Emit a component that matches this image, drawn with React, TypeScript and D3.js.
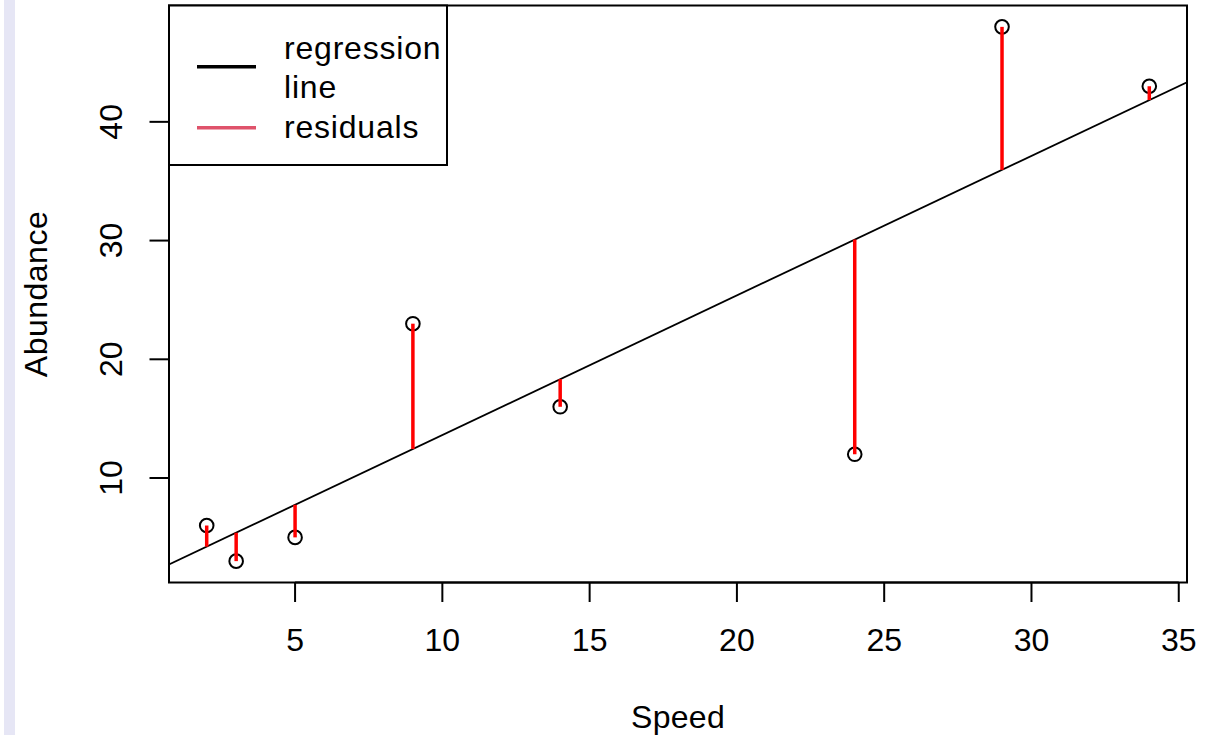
import React from "react";
import * as d3 from "d3";

const speed = [2, 3, 5, 9, 14, 24, 29, 34];
const abundance = [6, 3, 5, 23, 16, 12, 48, 43];
const xTicks = [5, 10, 15, 20, 25, 30, 35];
const yTicks = [10, 20, 30, 40];
const legendLabels = ["regression\nline", "residuals"];

const W = 1225;
const H = 735;
const L = 169, R = 1187, T = 5.5, B = 582.5;
const FONT = "'Liberation Sans', Arial, Helvetica, sans-serif";
const FS = 32;

export default function App() {
  const xExt = d3.extent(speed) as [number, number];
  const yExt = d3.extent(abundance) as [number, number];
  const xPad = (xExt[1] - xExt[0]) * 0.04;
  const yPad = (yExt[1] - yExt[0]) * 0.04;
  const x = d3.scaleLinear().domain([xExt[0] - xPad, xExt[1] + xPad]).range([L, R]);
  const y = d3.scaleLinear().domain([yExt[0] - yPad, yExt[1] + yPad]).range([B, T]);

  const mx = d3.mean(speed)!;
  const my = d3.mean(abundance)!;
  const sxy = d3.sum(speed, (v, i) => (v - mx) * (abundance[i] - my));
  const sxx = d3.sum(speed, (v) => (v - mx) * (v - mx));
  const slope = sxy / sxx;
  const intercept = my - slope * mx;
  const fit = (v: number) => intercept + slope * v;
  const [dx0, dx1] = x.domain();
  const regLine = d3.line<number>().x((v) => x(v)).y((v) => y(fit(v)))([dx0, dx1])!;

  return (
    <svg width={W} height={H} style={{ position: "absolute", left: 0, top: 0, background: "#fff" }} fontFamily={FONT}>
      <rect x={4} y={0} width={11} height={H} fill="#e6e6f5" />
      <defs>
        <clipPath id="plotclip">
          <rect x={L} y={T} width={R - L} height={B - T} />
        </clipPath>
      </defs>
      {/* regression line */}
      <path d={regLine} stroke="#000" strokeWidth={1.8} fill="none" clipPath="url(#plotclip)" />
      {/* points */}
      {speed.map((v, i) => (
        <circle key={"c" + i} cx={x(v)} cy={y(abundance[i])} r={6.8} fill="none" stroke="#000" strokeWidth={2} />
      ))}
      {/* residuals */}
      {speed.map((v, i) => (
        <line key={"r" + i} x1={x(v)} x2={x(v)} y1={y(abundance[i])} y2={y(fit(v))} stroke="#ff0000" strokeWidth={3.5} />
      ))}
      {/* box */}
      <rect x={L} y={T} width={R - L} height={B - T} fill="none" stroke="#000" strokeWidth={2} />
      {/* x axis */}
      <line x1={x(xTicks[0])} x2={x(xTicks[xTicks.length - 1])} y1={B} y2={B} stroke="#000" strokeWidth={2} />
      {xTicks.map((t) => (
        <g key={"xt" + t}>
          <line x1={x(t)} x2={x(t)} y1={B} y2={B + 19.5} stroke="#000" strokeWidth={2} />
          <text x={x(t)} y={651} textAnchor="middle" fontSize={FS} fill="#000">{t}</text>
        </g>
      ))}
      {/* y axis */}
      {yTicks.map((t) => (
        <g key={"yt" + t}>
          <line x1={L - 19.5} x2={L} y1={y(t)} y2={y(t)} stroke="#000" strokeWidth={2} />
          <text transform={`translate(122,${y(t)}) rotate(-90)`} textAnchor="middle" fontSize={FS} fill="#000">{t}</text>
        </g>
      ))}
      <text x={(L + R) / 2} y={728} textAnchor="middle" fontSize={FS} fill="#000" letterSpacing={0.3}>Speed</text>
      <text transform={`translate(47,${(T + B) / 2}) rotate(-90)`} textAnchor="middle" fontSize={FS} fill="#000" letterSpacing={0.5}>Abundance</text>
      {/* legend */}
      <rect x={L} y={T} width={447 - L} height={165 - T} fill="#fff" stroke="#000" strokeWidth={2} />
      <line x1={197} x2={256} y1={66.7} y2={66.7} stroke="#000" strokeWidth={3.5} />
      <line x1={197} x2={256} y1={127.7} y2={127.7} stroke="#df536b" strokeWidth={3.5} />
      <text x={284} y={59.3} fontSize={FS} fill="#000" letterSpacing={0.8}>{legendLabels[0].split("\n")[0]}</text>
      <text x={284} y={97.7} fontSize={FS} fill="#000" letterSpacing={0.8}>{legendLabels[0].split("\n")[1]}</text>
      <text x={284} y={138.3} fontSize={FS} fill="#000" letterSpacing={0.8}>{legendLabels[1]}</text>
    </svg>
  );
}
